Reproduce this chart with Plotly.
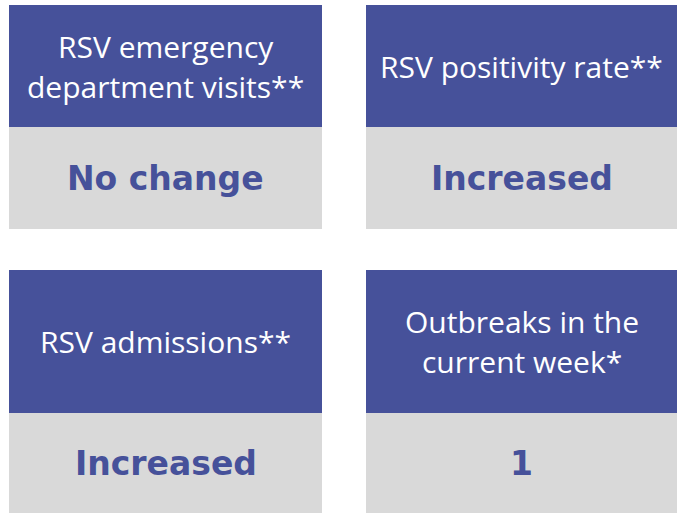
import plotly.graph_objects as go

# Data
titles = [
    ["RSV emergency", "department visits**"],
    ["RSV positivity rate**"],
    ["RSV admissions**"],
    ["Outbreaks in the", "current week*"],
]
values = ["No change", "Increased", "Increased", "1"]

# Layout (pixel grid)
W, H = 677, 513
col_x = [(9, 322), (366, 677)]
row_y = [(5, 127, 229), (270, 413, 513)]

BLUE = "#46519A"
GREY = "#D9D9D9"

fig = go.Figure()
shapes, annotations = [], []
for i, (title_lines, val) in enumerate(zip(titles, values)):
    r, c = divmod(i, 2)
    x0, x1 = col_x[c]
    y0, ym, y1 = row_y[r]
    shapes.append(dict(type="rect", xref="x", yref="y", x0=x0, x1=x1, y0=y0, y1=ym,
                       fillcolor=BLUE, line=dict(width=0), layer="below"))
    shapes.append(dict(type="rect", xref="x", yref="y", x0=x0, x1=x1, y0=ym, y1=y1,
                       fillcolor=GREY, line=dict(width=0), layer="below"))
    cx = (x0 + x1) / 2
    cy = (y0 + ym) / 2
    n = len(title_lines)
    gap = 40
    for k, line in enumerate(title_lines):
        ty = cy + (k - (n - 1) / 2) * gap
        annotations.append(dict(x=cx, y=ty, xref="x", yref="y", text=line, showarrow=False,
                                font=dict(family="Open Sans", size=30, color="white"),
                                xanchor="center", yanchor="middle"))
    annotations.append(dict(x=cx, y=(ym + y1) / 2, xref="x", yref="y", text="<b>" + val + "</b>",
                            showarrow=False,
                            font=dict(family="DejaVu Sans", size=33, color=BLUE),
                            xanchor="center", yanchor="middle"))

fig.update_layout(
    width=W, height=H, margin=dict(l=0, r=0, t=0, b=0),
    paper_bgcolor="white", plot_bgcolor="white",
    xaxis=dict(range=[0, W], visible=False, fixedrange=True),
    yaxis=dict(range=[H, 0], visible=False, fixedrange=True),
    shapes=shapes, annotations=annotations, showlegend=False,
)
fig.write_html(
    "out.html",
    config={"displayModeBar": False},
    post_script="document.body.style.margin='0';document.body.style.overflow='hidden';",
)
